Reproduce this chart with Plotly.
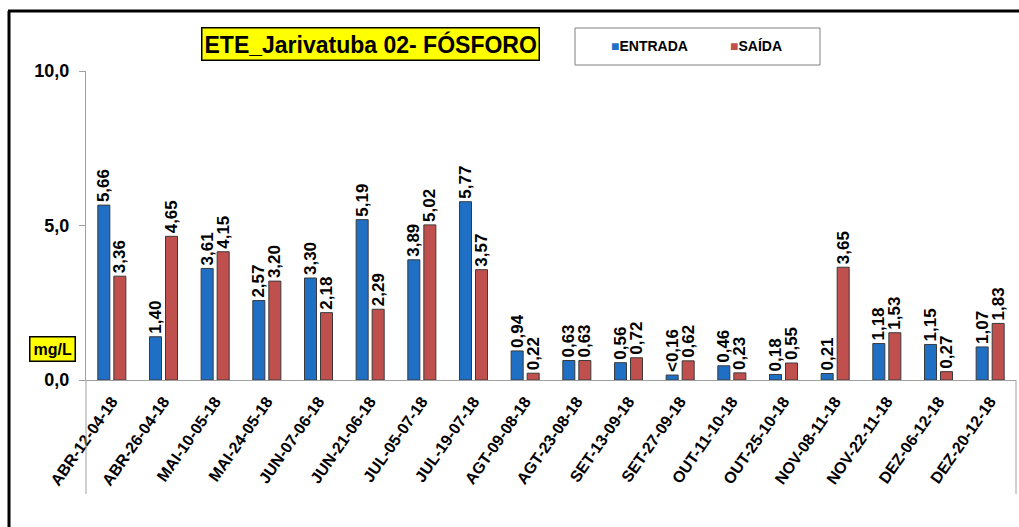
import plotly.graph_objects as go

categories = ["ABR-12-04-18", "ABR-26-04-18", "MAI-10-05-18", "MAI-24-05-18", "JUN-07-06-18",
              "JUN-21-06-18", "JUL-05-07-18", "JUL-19-07-18", "AGT-09-08-18", "AGT-23-08-18",
              "SET-13-09-18", "SET-27-09-18", "OUT-11-10-18", "OUT-25-10-18", "NOV-08-11-18",
              "NOV-22-11-18", "DEZ-06-12-18", "DEZ-20-12-18"]
entrada = [5.66, 1.40, 3.61, 2.57, 3.30, 5.19, 3.89, 5.77, 0.94, 0.63, 0.56, 0.16, 0.46, 0.18, 0.21, 1.18, 1.15, 1.07]
saida = [3.36, 4.65, 4.15, 3.20, 2.18, 2.29, 5.02, 3.57, 0.22, 0.63, 0.72, 0.62, 0.23, 0.55, 3.65, 1.53, 0.27, 1.83]
entrada_labels = ["5,66", "1,40", "3,61", "2,57", "3,30", "5,19", "3,89", "5,77", "0,94", "0,63", "0,56", "<0,16",
                  "0,46", "0,18", "0,21", "1,18", "1,15", "1,07"]
saida_labels = ["3,36", "4,65", "4,15", "3,20", "2,18", "2,29", "5,02", "3,57", "0,22", "0,63", "0,72", "0,62",
                "0,23", "0,55", "3,65", "1,53", "0,27", "1,83"]
y_ticks = [0, 5, 10]
y_tick_labels = ["0,0", "5,0", "10,0"]

BLUE = "#1F6FC4"
RED = "#C0504D"
FONT = "Arial, Liberation Sans, sans-serif"

W, H = 1019, 527
L, R, T, B = 86, 1016, 71, 380


def px(x):
    return (x - L) / (R - L)


def py(y):
    return (B - y) / (B - T)


fig = go.Figure()
for name, vals, labels, color in [("ENTRADA", entrada, entrada_labels, BLUE),
                                  ("SAÍDA", saida, saida_labels, RED)]:
    fig.add_trace(go.Bar(
        x=categories, y=vals, name=name, text=labels,
        textposition="outside", textangle=-90, constraintext="none", cliponaxis=False,
        textfont=dict(family=FONT, size=17, color="black", weight="bold"),
        marker=dict(color=color, line=dict(color="#3a3a3a", width=1)),
        showlegend=False,
    ))

fig.update_layout(
    width=W, height=H,
    margin=dict(l=L, r=W - R, t=T, b=H - B),
    paper_bgcolor="white", plot_bgcolor="white",
    barmode="group", bargap=0.38, bargroupgap=0.25,
    font=dict(family=FONT, color="black"),
    xaxis=dict(
        tickangle=-55, showgrid=False, showline=True, linecolor="#a0a0a0", linewidth=1,
        ticks="", tickfont=dict(family=FONT, size=16, color="black", weight="bold"),
        range=[-0.5, len(categories) - 0.5], ticklabelstandoff=5,
    ),
    yaxis=dict(
        range=[0, 10], tickvals=y_ticks, ticktext=y_tick_labels, showgrid=False,
        showline=True, linecolor="#a0a0a0", linewidth=1, ticks="outside", ticklen=6,
        tickcolor="#a0a0a0", tickfont=dict(family=FONT, size=18, color="black", weight="bold"),
        zeroline=False, ticklabelstandoff=6,
    ),
)

shapes = []
# outer black frame (left and top)
shapes.append(dict(type="line", xref="paper", yref="paper", x0=px(9), x1=px(9), y0=py(11), y1=py(540),
                   line=dict(color="black", width=3)))
shapes.append(dict(type="line", xref="paper", yref="paper", x0=px(8), x1=px(1030), y0=py(11), y1=py(11),
                   line=dict(color="black", width=3)))
# gray frame lines around category labels
shapes.append(dict(type="line", xref="paper", yref="paper", x0=px(86), x1=px(86), y0=py(380), y1=py(494),
                   line=dict(color="#a0a0a0", width=1)))
shapes.append(dict(type="line", xref="paper", yref="paper", x0=px(1016), x1=px(1016), y0=py(380), y1=py(494),
                   line=dict(color="#a0a0a0", width=1)))
# legend box
shapes.append(dict(type="rect", xref="paper", yref="paper", x0=px(575), x1=px(820), y0=py(28), y1=py(65),
                   line=dict(color="#808080", width=1), fillcolor="white"))
fig.update_layout(shapes=shapes)

annotations = [
    dict(text="ETE_Jarivatuba 02- FÓSFORO", xref="paper", yref="paper", x=px(370), y=py(44),
         showarrow=False, font=dict(family=FONT, size=23, color="black", weight="bold"),
         bgcolor="#FFFF00", bordercolor="black", borderwidth=1.5, borderpad=2,
         xanchor="center", yanchor="middle"),
    dict(text="mg/L", xref="paper", yref="paper", x=px(52), y=py(349),
         showarrow=False, font=dict(family=FONT, size=16, color="black", weight="bold"),
         bgcolor="#FFFF00", bordercolor="black", borderwidth=1.5, borderpad=3,
         xanchor="center", yanchor="middle"),
    dict(text=f"<span style='color:{BLUE}'>■</span>ENTRADA", xref="paper", yref="paper", x=px(609), y=py(46),
         showarrow=False, font=dict(family=FONT, size=14, color="black", weight="bold"),
         xanchor="left", yanchor="middle"),
    dict(text=f"<span style='color:{RED}'>■</span>SAÍDA", xref="paper", yref="paper", x=px(728), y=py(46),
         showarrow=False, font=dict(family=FONT, size=14, color="black", weight="bold"),
         xanchor="left", yanchor="middle"),
]
fig.update_layout(annotations=annotations)

fig.write_html("out.html")
